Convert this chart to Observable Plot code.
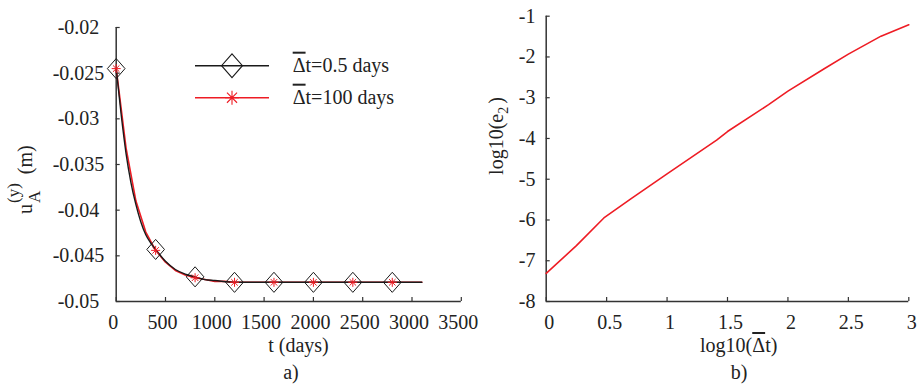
<!DOCTYPE html>
<html><head><meta charset="utf-8">
<script src="https://cdn.jsdelivr.net/npm/d3@7"></script>
<script src="https://cdn.jsdelivr.net/npm/@observablehq/plot@0.6"></script>
<style>
body{margin:0;background:#fff;}
#wrap{position:relative;width:917px;height:385px;font-family:"Liberation Serif",serif;}
#wrap svg{position:absolute;top:0;overflow:visible;}
.ov{text-decoration:overline;}
</style></head><body><div id="wrap"></div>
<script>
// ---- panel a) data ----
const tFine = [0, 50, 100, 150, 200, 250, 300, 350, 400, 500, 600, 700, 800, 900, 1000, 1200, 1600, 2000, 2400, 2800, 3100];
const uFine = [-0.0245, -0.0295, -0.0338, -0.0370, -0.0394, -0.0413, -0.0427, -0.0436, -0.0443, -0.0456, -0.0465, -0.0470, -0.0473, -0.0476, -0.0477, -0.0479, -0.0479, -0.0479, -0.0479, -0.0479, -0.0479];
const tCoarse = [0, 100, 200, 300, 400, 500, 600, 700, 800, 900, 1000, 1100, 1200, 1600, 2000, 2400, 2800, 3100];
const uCoarse = [-0.0245, -0.0332, -0.0390, -0.0424, -0.0444, -0.0457, -0.0466, -0.0471, -0.0474, -0.0476, -0.0478, -0.0478, -0.0479, -0.0479, -0.0479, -0.0479, -0.0479, -0.0479];
const markerT = [0, 400, 800, 1200, 1600, 2000, 2400, 2800];
const xTicksA = [0, 500, 1000, 1500, 2000, 2500, 3000, 3500];
const yTicksA = [-0.05, -0.045, -0.04, -0.035, -0.03, -0.025, -0.02];
const legendLabels = ["t=0.5 days", "t=100 days"]; // each preceded by an overlined Δ

// ---- panel b) data ----
const logDt = [0, 0.25, 0.477, 0.7, 1.0, 1.41, 1.5, 1.84, 2.0, 2.3, 2.5, 2.77, 3.0];
const logE2 = [-7.31, -6.63, -5.95, -5.48, -4.87, -4.04, -3.83, -3.17, -2.84, -2.29, -1.93, -1.49, -1.21];
const xTicksB = [0, 0.5, 1, 1.5, 2, 2.5, 3];
const yTicksB = [-8, -7, -6, -5, -4, -3, -2, -1];

const RED = "#ee1c24", BLK = "#1a1a1a", AX = "#333", TXT = "#222";

const diamondSym = {draw(ctx, size){ const r = Math.sqrt(size/Math.PI); const w = r*0.95, h = r*1.08;
  ctx.moveTo(0,-h); ctx.lineTo(w,0); ctx.lineTo(0,h); ctx.lineTo(-w,0); ctx.closePath(); }};
const starSym = {draw(ctx, size){ const r = Math.sqrt(size/Math.PI); const d = r*0.72;
  ctx.moveTo(0,-r); ctx.lineTo(0,r); ctx.moveTo(-r,0); ctx.lineTo(r,0);
  ctx.moveTo(-d,-d); ctx.lineTo(d,d); ctx.moveTo(-d,d); ctx.lineTo(d,-d); }};

const fine = tFine.map((t,i)=>({t, u:uFine[i]}));
const coarse = tCoarse.map((t,i)=>({t, u:uCoarse[i]}));
const fineM = fine.filter(d=>markerT.includes(d.t));
const coarseM = coarse.filter(d=>markerT.includes(d.t));

const wrap = document.getElementById("wrap");
const style = {fontFamily:"Liberation Serif, serif", fontSize:"20px", color:TXT, background:"transparent", overflow:"visible"};

function deltaBar(sel) { // Δ with an overbar
  sel.append("tspan").attr("class", "ov").text("\u0394");
}

// ---- left plot ----
const WA = 470, mLA = 115.7, mRA = 9.2, mTA = 27, mBA = 84;
const iwA = WA - mLA - mRA, ihA = 385 - mTA - mBA;
const left = Plot.plot({
  width: WA, height: 385, marginLeft: mLA, marginRight: mRA, marginTop: mTA, marginBottom: mBA,
  x: {domain: [0, 3500]}, y: {domain: [-0.05, -0.02], axis: null},
  style,
  marks: [
    Plot.ruleX([0], {stroke: AX, strokeWidth: 1.5}),
    Plot.ruleY([-0.05], {stroke: AX, strokeWidth: 1.5}),
    Plot.tickX(xTicksA, {x: d=>d, insetTop: ihA - 4, stroke: AX, strokeWidth: 1.2}),
    Plot.tickY(yTicksA, {y: d=>d, insetRight: iwA - 4, stroke: AX, strokeWidth: 1.2}),
    Plot.axisX({ticks: xTicksA, tickSize: 0, tickPadding: 13, dx: -3, tickFormat: d=>String(d), label: null, fill: TXT}),
    Plot.text(yTicksA, {y: d=>d, text: d=>String(d), frameAnchor: "left", dx: -37.7, textAnchor: "middle", fill: TXT, fontSize: 20}),
    Plot.line(coarse, {x: "t", y: "u", stroke: RED, strokeWidth: 1.6}),
    Plot.line(fine, {x: "t", y: "u", stroke: BLK, strokeWidth: 1.4, curve: "monotone-x"}),
    Plot.dot(fineM, {x: "t", y: "u", symbol: diamondSym, r: 9.3, fill: "none", stroke: BLK, strokeWidth: 1}),
    Plot.dot(coarseM, {x: "t", y: "u", symbol: starSym, r: 4.5, fill: "none", stroke: RED, strokeWidth: 1})
  ]
});
left.style.left = "0px";
wrap.appendChild(left);
{
  const s = d3.select(left);
  const lg = s.append("g");
  const rows = [{y: 65.7, c: BLK, sym: diamondSym, r: 11}, {y: 97.7, c: RED, sym: starSym, r: 7}];
  rows.forEach((row, i) => {
    lg.append("line").attr("x1", 195).attr("x2", 269).attr("y1", row.y).attr("y2", row.y)
      .attr("stroke", row.c).attr("stroke-width", 1.5);
    lg.append("path").attr("transform", `translate(232,${row.y})`)
      .attr("d", d3.symbol().type(row.sym).size(Math.PI*row.r*row.r)())
      .attr("fill", "none").attr("stroke", row.c).attr("stroke-width", 1.1);
    const tx = lg.append("text").attr("x", 292.7).attr("y", row.y + 6).attr("fill", TXT)
      .attr("text-anchor", "start").attr("font-size", 20);
    deltaBar(tx);
    tx.append("tspan").text(legendLabels[i]);
  });
  s.append("text").attr("x", 298.5).attr("y", 352).attr("text-anchor", "middle").attr("fill", TXT).text("t (days)");
  s.append("text").attr("x", 291).attr("y", 379).attr("text-anchor", "middle").attr("fill", TXT).text("a)");
  const yl = s.append("text").attr("transform", "translate(32,214) rotate(-90)").attr("text-anchor", "start").attr("fill", TXT);
  yl.append("tspan").text("u");
  yl.append("tspan").attr("font-size", 17).attr("dy", 8).attr("dx", 1).text("A");
  yl.append("tspan").attr("font-size", 17).attr("dx", -12.3).attr("dy", -21).text("(y)");
  yl.append("tspan").attr("dx", 9).attr("dy", 13).text("(m)");
}

// ---- right plot ----
const WB = 447, mLB = 75.7, mRB = 8.7, mTB = 15.7, mBB = 84;
const iwB = WB - mLB - mRB, ihB = 385 - mTB - mBB;
const right = Plot.plot({
  width: WB, height: 385, marginLeft: mLB, marginRight: mRB, marginTop: mTB, marginBottom: mBB,
  x: {domain: [0, 3]}, y: {domain: [-8, -1]},
  style,
  marks: [
    Plot.ruleX([0], {stroke: AX, strokeWidth: 1.5}),
    Plot.ruleY([-8], {stroke: AX, strokeWidth: 1.5}),
    Plot.tickX(xTicksB, {x: d=>d, insetTop: ihB - 4, stroke: AX, strokeWidth: 1.2}),
    Plot.tickY(yTicksB, {y: d=>d, insetRight: iwB - 4, stroke: AX, strokeWidth: 1.2}),
    Plot.axisX({ticks: xTicksB, tickSize: 0, tickPadding: 13, dx: 3, tickFormat: d=>String(d), label: null, fill: TXT}),
    Plot.axisY({ticks: yTicksB, tickSize: 0, tickPadding: 10.7, tickFormat: d=>String(d), label: null, fill: TXT}),
    Plot.line(logDt.map((x,i)=>({x, y: logE2[i]})), {x: "x", y: "y", stroke: RED, strokeWidth: 1.6})
  ]
});
right.style.left = "470px";
wrap.appendChild(right);
{
  const s = d3.select(right);
  const xt = s.append("text").attr("x", 268.7).attr("y", 352).attr("text-anchor", "middle").attr("fill", TXT);
  xt.append("tspan").text("log10(");
  deltaBar(xt);
  xt.append("tspan").text("t)");
  s.append("text").attr("x", 269).attr("y", 379).attr("text-anchor", "middle").attr("fill", TXT).text("b)");
  const yl = s.append("text").attr("transform", "translate(33,136) rotate(-90)").attr("text-anchor", "middle").attr("fill", TXT);
  yl.append("tspan").text("log10(e");
  yl.append("tspan").attr("font-size", 14).attr("dy", 5).text("2");
  yl.append("tspan").attr("dx", 3).attr("dy", -5).text(")");
}
</script></body></html>
